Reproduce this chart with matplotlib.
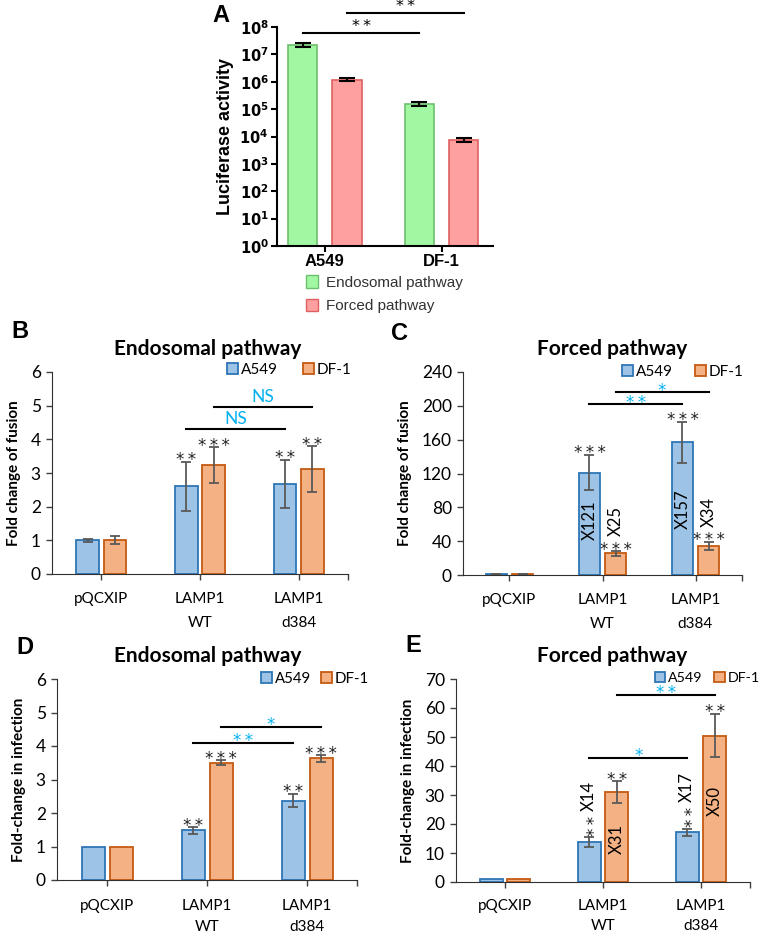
import numpy as np
import matplotlib
matplotlib.use('Agg')
import matplotlib.pyplot as plt
from matplotlib.patches import Patch

# ---- data ----
# panel A
cells_a = ['A549', 'DF-1']
endo_a = [2.2e7, 1.6e5]
endo_a_err = [4.0e6, 2.5e4]
forced_a = [1.2e6, 7.5e3]
forced_a_err = [1.5e5, 1.2e3]

groups = ['pQCXIP', 'LAMP1\nWT', 'LAMP1\nd384']

# panel B
b_a549 = [1.0, 2.6, 2.68]
b_a549_err = [0.05, 0.73, 0.71]
b_df1 = [1.0, 3.23, 3.12]
b_df1_err = [0.12, 0.54, 0.68]
b_stars_a549 = ['', '**', '**']
b_stars_df1 = ['', '***', '**']

# panel C
c_a549 = [1.0, 121, 157]
c_a549_err = [0.3, 21, 24]
c_df1 = [1.0, 25.5, 34]
c_df1_err = [0.3, 2.5, 5]
c_stars_a549 = ['', '***', '***']
c_stars_df1 = ['', '***', '***']

# panel D
d_a549 = [1.0, 1.48, 2.37]
d_a549_err = [0, 0.1, 0.2]
d_df1 = [1.0, 3.5, 3.63]
d_df1_err = [0, 0.08, 0.1]
d_stars_a549 = ['', '**', '**']
d_stars_df1 = ['', '***', '***']

# panel E
e_a549 = [1.0, 13.7, 17.2]
e_a549_err = [0, 1.7, 1.2]
e_df1 = [1.0, 31, 50.5]
e_df1_err = [0, 3.7, 7.5]
e_stars_a549 = ['', '**', '**']
e_stars_df1 = ['', '**', '**']

W, H = 762, 933
fig = plt.figure(figsize=(W / 100, H / 100), dpi=100)

def box(l, r, t, b):
    return [l / W, 1 - b / H, (r - l) / W, (b - t) / H]

def spaced(s):
    # stars a little apart, like the original
    return '\u2009'.join(s)

blue_fc, blue_ec = '#9dc3e6', '#2e75b6'
orng_fc, orng_ec = '#f4b183', '#c55a11'
cyan = '#00b0f0'
cal = 'Lato'
star_font = 'DejaVu Sans'
star_size = 12

# ---------------- panel A ----------------
axA = fig.add_axes(box(277, 493, 27, 246))
xa = np.arange(len(cells_a))
axA.bar(xa - 0.19, endo_a, 0.25, color='#a2f7a2', edgecolor='#6cc06c', lw=1.2,
        yerr=endo_a_err, capsize=6, error_kw=dict(lw=1.5, capthick=1.5, ecolor='black'))
axA.bar(xa + 0.19, forced_a, 0.25, color='#ffa0a0', edgecolor='#e06060', lw=1.2,
        yerr=forced_a_err, capsize=6, error_kw=dict(lw=1.5, capthick=1.5, ecolor='black'))
axA.set_yscale('log')
axA.set_ylim(1, 1e8)
axA.set_xlim(-0.41, 1.44)
axA.set_yticks([10.0 ** k for k in range(9)])
axA.set_yticklabels([r'$\mathbf{10^{%d}}$' % k for k in range(9)], fontsize=10.5)
axA.yaxis.set_minor_locator(matplotlib.ticker.NullLocator())
axA.set_xticks(xa)
axA.set_xticklabels(cells_a, fontsize=12, fontweight='bold', family='Liberation Sans')
axA.set_ylabel('Luciferase activity', fontsize=13, fontweight='bold', family='Liberation Sans', labelpad=4)
for s in ['top', 'right']:
    axA.spines[s].set_visible(False)
for s in ['left', 'bottom']:
    axA.spines[s].set_linewidth(1.5)
axA.tick_params(width=1.5, length=4, pad=2)
# significance bars above the axes
for x0, x1, yv in [(-0.19, 0.81, 10 ** 7.78), (0.19, 1.19, 10 ** 8.51)]:
    axA.plot([x0, x1], [yv, yv], color='black', lw=1.5, clip_on=False)
    axA.annotate(spaced('**'), ((x0 + x1) / 2, yv), xytext=(0, 1.5), textcoords='offset points',
                 ha='center', va='baseline', family=star_font, fontsize=11.5, annotation_clip=False)
fig.text(221 / W, 1 - 15 / H, 'A', fontsize=17, fontweight='bold', family='Liberation Sans', va='center', ha='center')
axA.legend(handles=[Patch(fc='#a2f7a2', ec='#6cc06c', label='Endosomal pathway'),
                    Patch(fc='#ffa0a0', ec='#e06060', label='Forced pathway')],
           loc='upper left', bbox_to_anchor=(306 / W, 1 - 275 / H), bbox_transform=fig.transFigure,
           frameon=False, handlelength=0.8, handleheight=0.9, handletextpad=0.5, labelspacing=0.6,
           borderpad=0, borderaxespad=0, prop=dict(family='Liberation Sans', size=11),
           labelcolor='#333333')


def panel(rect, a549, a549_err, df1, df1_err, ylim, yticks, ylabel, title, title_dx, letter, letter_xy,
          leg_xy, leg_size, leg_spacing, lsp, xpad, stars_a549, stars_df1, sig):
    ax = fig.add_axes(box(*rect))
    x = np.arange(len(groups))
    ek = dict(lw=1.3, capthick=1.3, ecolor='#595959')
    ea = [e if e > 0 else np.nan for e in a549_err]
    ed = [e if e > 0 else np.nan for e in df1_err]
    ax.bar(x - 0.14, a549, 0.23, color=blue_fc, edgecolor=blue_ec, lw=1.3, yerr=ea, capsize=3.5, error_kw=ek)
    ax.bar(x + 0.14, df1, 0.23, color=orng_fc, edgecolor=orng_ec, lw=1.3, yerr=ed, capsize=3.5, error_kw=ek)
    ax.set_xlim(-0.5, 2.5)
    ax.set_ylim(*ylim)
    ax.set_yticks(yticks)
    ax.set_xticks(x)
    ax.set_xticklabels(groups, family=cal, fontsize=11)
    for t in ax.get_xticklabels():
        t.set_linespacing(lsp)
    for t in ax.get_yticklabels():
        t.set_family(cal)
        t.set_fontsize(12.5)
    ax.set_xticks([2.5], minor=True)
    ax.tick_params(axis='x', which='both', length=4, width=1, pad=xpad, color='#404040')
    ax.tick_params(axis='y', length=4, width=1, pad=4, color='#404040')
    for s in ['top', 'right']:
        ax.spines[s].set_visible(False)
    for s in ['left', 'bottom']:
        ax.spines[s].set_color('#303030')
    ax.set_ylabel(ylabel, family=cal, fontweight='bold', fontsize=11, labelpad=7)
    t = ax.set_title(title, family=cal, fontweight='bold', fontsize=15, pad=12)
    t.set_x(0.5 + title_dx / (rect[1] - rect[0]))
    fig.text(letter_xy[0] / W, 1 - letter_xy[1] / H, letter, fontsize=17, fontweight='bold',
             family='Liberation Sans', ha='center', va='center')
    ax.legend(handles=[Patch(fc=blue_fc, ec=blue_ec, lw=1.3, label='A549'),
                       Patch(fc=orng_fc, ec=orng_ec, lw=1.3, label='DF-1')],
              loc='center right', bbox_to_anchor=(leg_xy[0] / W, 1 - leg_xy[1] / H),
              bbox_transform=fig.transFigure, ncol=2, frameon=False, handlelength=0.75,
              handleheight=0.75, handletextpad=0.2, columnspacing=leg_spacing, borderpad=0,
              borderaxespad=0, prop=dict(family=cal, size=leg_size))
    for i in range(len(groups)):
        if stars_a549[i]:
            ax.annotate(spaced(stars_a549[i]), (x[i] - 0.14, a549[i] + a549_err[i]), xytext=(0, -2.5),
                        textcoords='offset points', ha='center', va='baseline', family=star_font,
                        fontsize=star_size, color='#222222')
        if stars_df1[i]:
            ax.annotate(spaced(stars_df1[i]), (x[i] + 0.14, df1[i] + df1_err[i]), xytext=(0, -2.5),
                        textcoords='offset points', ha='center', va='baseline', family=star_font,
                        fontsize=star_size, color='#222222')
    for x0, x1, yv, lab in sig:
        ax.plot([x0, x1], [yv, yv], color='black', lw=1.5, clip_on=False)
        if lab == 'NS':
            ax.annotate(lab, ((x0 + x1) / 2, yv), xytext=(0, 3.5), textcoords='offset points',
                        ha='center', va='baseline', color=cyan, family=cal, fontsize=12.5)
        else:
            ax.annotate(spaced(lab), ((x0 + x1) / 2, yv), xytext=(0, -2.5), textcoords='offset points',
                        ha='center', va='baseline', color=cyan, family=star_font, fontsize=star_size)
    return ax


axB = panel((52, 348, 372, 574), b_a549, b_a549_err, b_df1, b_df1_err, (0, 6), range(0, 7),
            'Fold change of fusion', 'Endosomal pathway', 8, 'B', (20, 332), (352, 370), 11, 1.6, 1.9, 9,
            b_stars_a549, b_stars_df1,
            [(0.86, 1.86, 4.31, 'NS'), (1.14, 2.14, 4.96, 'NS')])

axC = panel((463, 742, 372, 575), c_a549, c_a549_err, c_df1, c_df1_err, (0, 240), range(0, 241, 40),
            'Fold change of fusion', 'Forced pathway', 10, 'C', (400, 334), (744, 372), 11, 1.4, 1.9, 9,
            c_stars_a549, c_stars_df1,
            [(0.86, 1.86, 202, '**'), (1.14, 2.14, 216, '*')])
axC.text(0.86, 65, 'X121', rotation=90, ha='center', va='center', family=cal, fontsize=12)
axC.text(1.86, 78, 'X157', rotation=90, ha='center', va='center', family=cal, fontsize=12)
axC.text(1.14, 64, 'X25', rotation=90, ha='center', va='center', family=cal, fontsize=12)
axC.text(2.14, 75, 'X34', rotation=90, ha='center', va='center', family=cal, fontsize=12)

axD = panel((57, 357, 679, 880), d_a549, d_a549_err, d_df1, d_df1_err, (0, 6), range(0, 7),
            'Fold-change in infection', 'Endosomal pathway', 1, 'D', (25, 647), (369, 679), 10.8, 0.6, 1.6, 10,
            d_stars_a549, d_stars_df1,
            [(0.86, 1.86, 4.09, '**'), (1.14, 2.14, 4.57, '*')])

axE = panel((456, 750, 679, 882), e_a549, e_a549_err, e_df1, e_df1_err, (0, 70), range(0, 71, 10),
            'Fold-change in infection', 'Forced pathway', 9, 'E', (413, 645), (760, 678), 10.3, 0.8, 1.6, 8,
            ['', '', ''], e_stars_df1,
            [(0.86, 1.86, 42.8, '*'), (1.14, 2.14, 64.5, '**')])
# rotated star + fold labels above the A549 bars
for i, lab in [(1, 'X14'), (2, 'X17')]:
    top = e_a549[i] + e_a549_err[i]
    axE.annotate(spaced(e_stars_a549[i]), (i - 0.14, top), xytext=(4, 1), textcoords='offset points',
                 rotation=90, ha='center', va='bottom', family=star_font, fontsize=star_size, color='#222222')
    axE.annotate(lab, (i - 0.14, top), xytext=(0, 19), textcoords='offset points',
                 rotation=90, ha='center', va='bottom', family=cal, fontsize=12)
axE.text(1.14, 15, 'X31', rotation=90, ha='center', va='center', family=cal, fontsize=12)
axE.text(2.14, 28, 'X50', rotation=90, ha='center', va='center', family=cal, fontsize=12)

plt.savefig('out.png', dpi=100)
